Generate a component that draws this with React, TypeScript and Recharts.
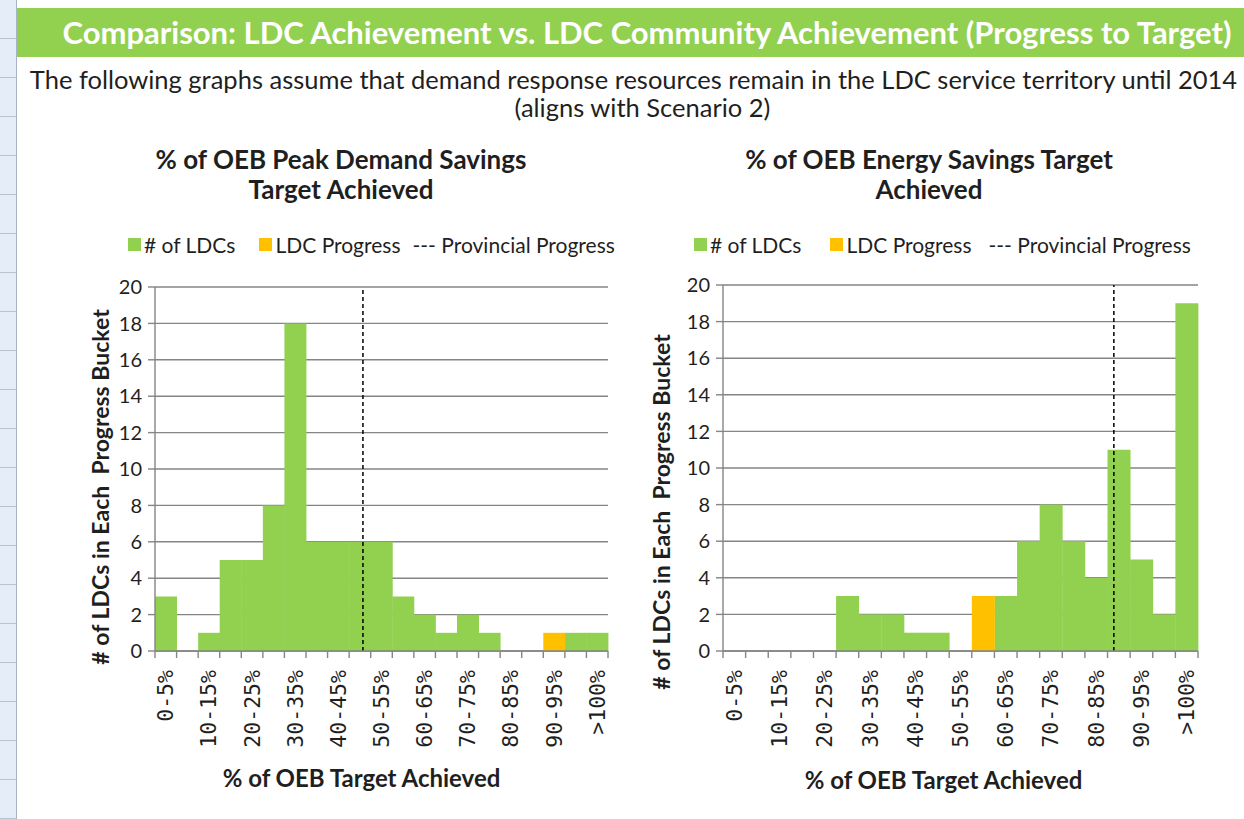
import React from 'react';
import { BarChart, Bar, XAxis, YAxis, CartesianGrid, ReferenceLine, Legend } from 'recharts';

// progress buckets, 5% wide each, plus the >100% bucket
const buckets = [
  '0-5%', '5-10%', '10-15%', '15-20%', '20-25%', '25-30%', '30-35%', '35-40%', '40-45%', '45-50%',
  '50-55%', '55-60%', '60-65%', '65-70%', '70-75%', '75-80%', '80-85%', '85-90%', '90-95%', '95-100%', '>100%',
];
const bucketStartPct = [0, 5, 10, 15, 20, 25, 30, 35, 40, 45, 50, 55, 60, 65, 70, 75, 80, 85, 90, 95, 100];

// peak demand savings chart
const peakLdcCounts = [3, 0, 1, 5, 5, 8, 18, 6, 6, 6, 6, 3, 2, 1, 2, 1, 0, 0, 0, 1, 1];
const peakLdcProgress = [0, 0, 0, 0, 0, 0, 0, 0, 0, 0, 0, 0, 0, 0, 0, 0, 0, 0, 1, 0, 0];
const peakProvincialPct = 48.2;

// energy savings chart
const energyLdcCounts = [0, 0, 0, 0, 0, 3, 2, 2, 1, 1, 0, 0, 3, 6, 8, 6, 4, 11, 5, 2, 19];
const energyLdcProgress = [0, 0, 0, 0, 0, 0, 0, 0, 0, 0, 0, 3, 0, 0, 0, 0, 0, 0, 0, 0, 0];
const energyProvincialPct = 86.4;

const countTicks = [0, 2, 4, 6, 8, 10, 12, 14, 16, 18, 20];
const pctDomain = [0, 105];

const GREEN = '#92D050';
const ORANGE = '#FFC000';
const GRID = '#858585';
const INK = '#1f1f1f';

const buildRows = (counts: number[], progress: number[]) =>
  buckets.map((bucket, i) => ({ bucket, pctStart: bucketStartPct[i], ldcs: counts[i], progress: progress[i] }));

function BucketTick(props: any) {
  const { x, y, payload, index } = props;
  const half = payload?.offset ?? 0;
  const ty = y + 19;
  return (
    <g>
      <line x1={x - half} x2={x - half} y1={y} y2={y + 7} stroke={GRID} strokeWidth={1.4} />
      {index === buckets.length - 1 && (
        <line x1={x + half} x2={x + half} y1={y} y2={y + 7} stroke={GRID} strokeWidth={1.4} />
      )}
      {index % 2 === 0 && (
        <text
          x={x}
          y={ty}
          transform={`rotate(-90 ${x} ${ty})`}
          textAnchor="end"
          dominantBaseline="central"
          style={{ font: '21.5px "DejaVu Sans Mono"', fill: INK }}
        >
          {payload.value}
        </text>
      )}
    </g>
  );
}

interface PanelProps {
  counts: number[];
  progress: number[];
  provincial: number;
  left: number;
  top: number;
  width: number;
  margin: { top: number; right: number; bottom: number; left: number };
  xAxisHeight: number;
  yLabelX: number;
  yLabelDy: number;
  xLabelDx: number;
  xLabelDy: number;
  legendLeft: number;
  legendGaps: [number, number];
}

function HistogramPanel(p: PanelProps) {
  const data = buildRows(p.counts, p.progress);

  const legend = () => (
    <div style={{ display: 'flex', alignItems: 'center', font: '21px Lato', color: INK, whiteSpace: 'nowrap' }}>
      <span style={{ width: 13, height: 13, background: GREEN, marginRight: 3, display: 'inline-block' }} />
      <span># of LDCs</span>
      <span style={{ width: 13, height: 13, background: ORANGE, marginLeft: p.legendGaps[0], marginRight: 3, display: 'inline-block' }} />
      <span>LDC Progress</span>
      <span style={{ marginLeft: p.legendGaps[1] }}>--- Provincial Progress</span>
    </div>
  );

  return (
    <div style={{ position: 'absolute', left: p.left, top: p.top }}>
      <BarChart width={p.width} height={590} data={data} margin={p.margin} barCategoryGap={0} barGap={0}>
        <CartesianGrid vertical={false} stroke={GRID} strokeWidth={1.4} />
        <XAxis
          dataKey="bucket"
          interval={0}
          tickLine={false}
          tickSize={0}
          tickMargin={0}
          height={p.xAxisHeight}
          axisLine={{ stroke: GRID, strokeWidth: 1.4 }}
          tick={<BucketTick />}
          label={(lp: any) => {
            const vb = lp.viewBox;
            const cx = vb.x + vb.width / 2 + p.xLabelDx;
            const cy = vb.y + p.xLabelDy;
            return (
              <text x={cx} y={cy} textAnchor="middle" dominantBaseline="central" style={{ font: 'bold 24px Lato', fill: INK }}>
                % of OEB Target Achieved
              </text>
            );
          }}
        />
        {/* continuous % scale, used to place the provincial progress line */}
        <XAxis xAxisId="pct" dataKey="pctStart" type="number" domain={pctDomain} allowDataOverflow hide />
        <YAxis
          domain={[0, 20]}
          ticks={countTicks}
          interval={0}
          width={115}
          tickSize={7}
          tickMargin={6}
          tickLine={{ stroke: GRID, strokeWidth: 1.4 }}
          axisLine={{ stroke: GRID, strokeWidth: 1.4 }}
          tick={{ style: { font: '20px Lato', fill: INK } }}
          label={(lp: any) => {
            const vb = lp.viewBox;
            const cx = vb.x + p.yLabelX;
            const cy = vb.y + vb.height / 2 + p.yLabelDy;
            return (
              <text
                x={cx}
                y={cy}
                transform={`rotate(-90 ${cx} ${cy})`}
                textAnchor="middle"
                dominantBaseline="central"
                style={{ font: 'bold 23px Lato', fill: INK, whiteSpace: 'pre' }}
              >
                # of LDCs in Each  Progress Bucket
              </text>
            );
          }}
        />
        <YAxis yAxisId="frame" orientation="right" domain={[0, 20]} width={0} tick={false} tickLine={false} axisLine={{ stroke: GRID, strokeWidth: 1.4 }} />
        <Legend
          verticalAlign="middle"
          align="center"
          content={legend}
          wrapperStyle={{ left: p.legendLeft, top: 12, width: 'auto' }}
        />
        <Bar dataKey="ldcs" name="# of LDCs" stackId="a" fill={GREEN} isAnimationActive={false} />
        <Bar dataKey="progress" name="LDC Progress" stackId="a" fill={ORANGE} isAnimationActive={false} />
        <ReferenceLine xAxisId="pct" x={p.provincial} ifOverflow="visible" stroke="#000" strokeWidth={1.5} strokeDasharray="4 3" />
      </BarChart>
    </div>
  );
}

function Title({ lines, centerX }: { lines: string[]; centerX: number }) {
  return (
    <div
      style={{
        position: 'absolute',
        left: centerX - 300,
        top: 144,
        width: 600,
        textAlign: 'center',
        font: 'bold 26px Lato',
        lineHeight: '30px',
        color: INK,
      }}
    >
      {lines.map((l) => (
        <div key={l}>{l}</div>
      ))}
    </div>
  );
}

export default function App() {
  return (
    <div style={{ position: 'absolute', left: 0, top: 0, width: 1244, height: 819, background: '#fff', overflow: 'hidden', fontFamily: 'Lato' }}>
      {/* spreadsheet row-header strip */}
      <div
        style={{
          position: 'absolute',
          left: 0,
          top: 0,
          width: 16,
          height: 819,
          borderRight: '1px solid #a7b4c4',
          background: 'repeating-linear-gradient(#e4edf8 0px, #e4edf8 38px, #b8c3d0 38px, #b8c3d0 39px)',
        }}
      />
      <div
        style={{
          position: 'absolute',
          left: 17,
          top: 8,
          width: 1227,
          height: 49,
          background: GREEN,
          color: '#fff',
          font: 'bold 31px Lato',
          lineHeight: '49px',
          textAlign: 'center',
          paddingLeft: 33,
          boxSizing: 'border-box',
          whiteSpace: 'nowrap',
        }}
      >
        Comparison: LDC Achievement vs. LDC Community Achievement (Progress to Target)
      </div>
      <div
        style={{
          position: 'absolute',
          left: 17,
          top: 65,
          width: 1227,
          textAlign: 'center',
          font: '25.5px Lato',
          lineHeight: '28px',
          color: INK,
          whiteSpace: 'nowrap',
        }}
      >
        <div style={{ paddingLeft: 6 }}>The following graphs assume that demand response resources remain in the LDC service territory until 2014</div>
        <div style={{ paddingLeft: 24 }}>(aligns with Scenario 2)</div>
      </div>

      <Title lines={['% of OEB Peak Demand Savings', 'Target Achieved']} centerX={341} />
      <Title lines={['% of OEB Energy Savings Target', 'Achieved']} centerX={929} />

      <HistogramPanel
        counts={peakLdcCounts}
        progress={peakLdcProgress}
        provincial={peakProvincialPct}
        left={40}
        top={220}
        width={600}
        margin={{ top: 67, right: 32, bottom: 0, left: 0 }}
        xAxisHeight={159}
        yLabelX={60}
        yLabelDy={18}
        xLabelDx={-20}
        xLabelDy={126}
        legendLeft={88}
        legendGaps={[24, 12]}
      />
      <HistogramPanel
        counts={energyLdcCounts}
        progress={energyLdcProgress}
        provincial={energyProvincialPct}
        left={608}
        top={220}
        width={632}
        margin={{ top: 65, right: 42, bottom: 0, left: 0 }}
        xAxisHeight={159}
        yLabelX={53}
        yLabelDy={44}
        xLabelDx={-17}
        xLabelDy={128}
        legendLeft={86}
        legendGaps={[29, 17]}
      />
    </div>
  );
}
